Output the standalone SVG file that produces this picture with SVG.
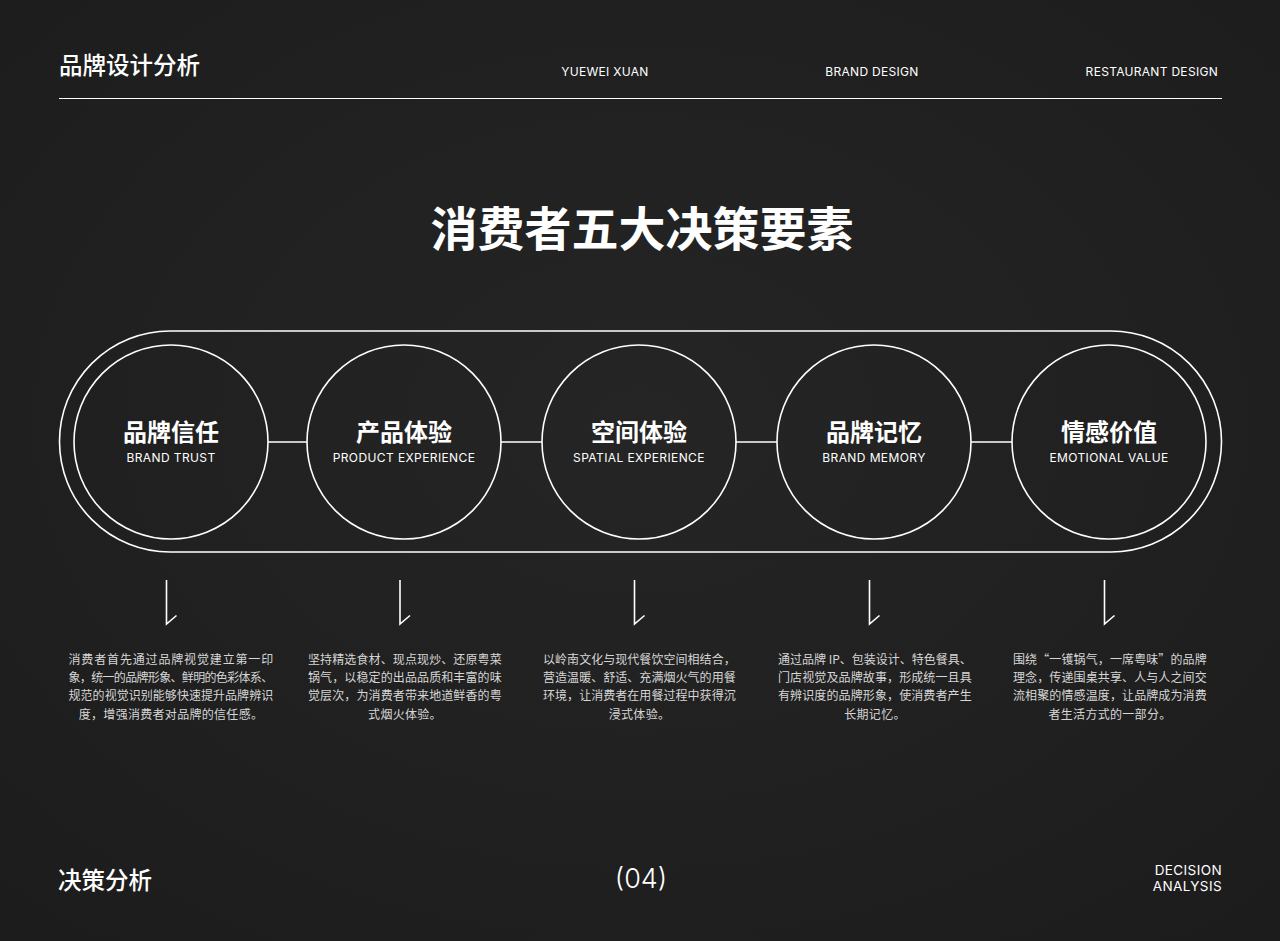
<svg xmlns="http://www.w3.org/2000/svg" width="1280" height="941" viewBox="0 0 1280 941">
<defs>
<radialGradient id="bg" cx="50%" cy="45%" r="75%">
<stop offset="0" stop-color="#252525"/>
<stop offset="1" stop-color="#1c1c1c"/>
</radialGradient>
<style>
.cn{font-family:"Noto Sans CJK SC","Noto Sans",sans-serif;fill:#ffffff}
.en{font-family:Inter,"Noto Sans","Liberation Sans",sans-serif;fill:#ffffff}
.ring{fill:none;stroke:#ffffff;stroke-width:1.6}
.conn{fill:none;stroke:#ffffff;stroke-width:1.6}
.title{font-size:24px;font-weight:700;text-anchor:middle}
.sub{font-size:12px;text-anchor:middle;letter-spacing:0.4px}
.desc{font-family:"Noto Sans CJK SC",sans-serif;font-size:12px;fill:#d6d6d6;text-anchor:middle;letter-spacing:0.3px}
.hdr{font-size:12px;letter-spacing:0.3px}
</style>
</defs>
<rect width="1280" height="941" fill="url(#bg)"/>

<g id="header">
<text class="cn" x="59" y="74" font-size="23.5" font-weight="500">品牌设计分析</text>
<text class="en hdr" x="605" y="76" text-anchor="middle">YUEWEI XUAN</text>
<text class="en hdr" x="872" y="76" text-anchor="middle">BRAND DESIGN</text>
<text class="en hdr" x="1218" y="76" text-anchor="end">RESTAURANT DESIGN</text>
<line x1="59" y1="98.5" x2="1222" y2="98.5" stroke="#ffffff" stroke-width="1.2"/>
</g>

<g id="main-title">
<text class="cn" x="642" y="246" font-size="47" font-weight="700" text-anchor="middle">消费者五大决策要素</text>
</g>

<g id="frame">
<rect class="ring" x="59.5" y="331" width="1162" height="221" rx="110.5" ry="110.5"/>
</g>

<g id="connectors">
<line class="conn" x1="268" y1="442" x2="307" y2="442"/>
<line class="conn" x1="501" y1="442" x2="542" y2="442"/>
<line class="conn" x1="736" y1="442" x2="777" y2="442"/>
<line class="conn" x1="971" y1="442" x2="1012" y2="442"/>
<path class="conn" d="M166.5,580 V624 L176.5,615.5"/>
<path class="conn" d="M400,580 V624 L410,615.5"/>
<path class="conn" d="M634.5,580 V624 L644.5,615.5"/>
<path class="conn" d="M869.5,580 V624 L879.5,615.5"/>
<path class="conn" d="M1104.5,580 V624 L1114.5,615.5"/>
</g>

<g id="node-brand-trust">
<circle class="ring" cx="171" cy="442" r="97"/>
<text class="cn title" x="171" y="441">品牌信任</text>
<text class="en sub" x="171" y="462">BRAND TRUST</text>
<g class="desc">
<text x="171" y="664" textLength="205" lengthAdjust="spacing">消费者首先通过品牌视觉建立第一印</text>
<text x="171" y="682" textLength="205" lengthAdjust="spacing">象，统一的品牌形象、鲜明的色彩体系、</text>
<text x="171" y="700" textLength="205" lengthAdjust="spacing">规范的视觉识别能够快速提升品牌辨识</text>
<text x="171" y="719">度，增强消费者对品牌的信任感。</text>
</g>
</g>

<g id="node-product-experience">
<circle class="ring" cx="404" cy="442" r="97"/>
<text class="cn title" x="404" y="441">产品体验</text>
<text class="en sub" x="404" y="462">PRODUCT EXPERIENCE</text>
<g class="desc">
<text x="405" y="664" textLength="194" lengthAdjust="spacing">坚持精选食材、现点现炒、还原粤菜</text>
<text x="405" y="682" textLength="194" lengthAdjust="spacing">锅气，以稳定的出品品质和丰富的味</text>
<text x="405" y="700" textLength="194" lengthAdjust="spacing">觉层次，为消费者带来地道鲜香的粤</text>
<text x="405" y="719">式烟火体验。</text>
</g>
</g>

<g id="node-spatial-experience">
<circle class="ring" cx="639" cy="442" r="97"/>
<text class="cn title" x="639" y="441">空间体验</text>
<text class="en sub" x="639" y="462">SPATIAL EXPERIENCE</text>
<g class="desc">
<text x="639.5" y="664" textLength="193" lengthAdjust="spacing">以岭南文化与现代餐饮空间相结合，</text>
<text x="639.5" y="682" textLength="193" lengthAdjust="spacing">营造温暖、舒适、充满烟火气的用餐</text>
<text x="639.5" y="700" textLength="193" lengthAdjust="spacing">环境，让消费者在用餐过程中获得沉</text>
<text x="639.5" y="719">浸式体验。</text>
</g>
</g>

<g id="node-brand-memory">
<circle class="ring" cx="874" cy="442" r="97"/>
<text class="cn title" x="874" y="441">品牌记忆</text>
<text class="en sub" x="874" y="462">BRAND MEMORY</text>
<g class="desc">
<text x="875" y="664" textLength="194" lengthAdjust="spacing">通过品牌 IP、包装设计、特色餐具、</text>
<text x="875" y="682" textLength="194" lengthAdjust="spacing">门店视觉及品牌故事，形成统一且具</text>
<text x="875" y="700" textLength="194" lengthAdjust="spacing">有辨识度的品牌形象，使消费者产生</text>
<text x="875" y="719">长期记忆。</text>
</g>
</g>

<g id="node-emotional-value">
<circle class="ring" cx="1109" cy="442" r="97"/>
<text class="cn title" x="1109" y="441">情感价值</text>
<text class="en sub" x="1109" y="462">EMOTIONAL VALUE</text>
<g class="desc">
<text x="1110" y="664" textLength="194" lengthAdjust="spacing">围绕“一镬锅气，一席粤味”的品牌</text>
<text x="1110" y="682" textLength="194" lengthAdjust="spacing">理念，传递围桌共享、人与人之间交</text>
<text x="1110" y="700" textLength="194" lengthAdjust="spacing">流相聚的情感温度，让品牌成为消费</text>
<text x="1110" y="719">者生活方式的一部分。</text>
</g>
</g>

<g id="footer">
<text class="cn" x="58" y="889" font-size="23.5" font-weight="500">决策分析</text>
<text class="en" x="641" y="888" font-size="27" font-weight="300" text-anchor="middle">(04)</text>
<text class="en" x="1222" y="875" font-size="13.5" letter-spacing="0.4" text-anchor="end">DECISION</text>
<text class="en" x="1222" y="891" font-size="13.5" letter-spacing="0.4" text-anchor="end">ANALYSIS</text>
</g>
</svg>
